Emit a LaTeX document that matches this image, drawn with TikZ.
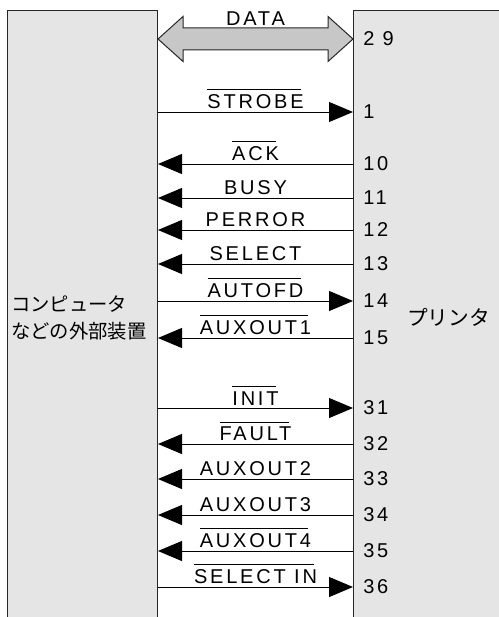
\documentclass[tikz,border=0pt]{standalone}
\usepackage{fontspec}
\setmainfont{Liberation Sans}[LetterSpace=14]
\newfontfamily\jpfont{Noto Sans CJK JP}
\usepackage{xcolor}
\usetikzlibrary{positioning,arrows.meta,calc}
\definecolor{boxgray}{gray}{0.9}
\definecolor{busgray}{gray}{0.78}
\newsavebox{\ovlbox}
\newcommand{\ovl}[1]{\sbox{\ovlbox}{#1}\rlap{\rule[\dimexpr\ht\ovlbox+3.5pt\relax]{\dimexpr\wd\ovlbox-2pt\relax}{0.7pt}}\usebox{\ovlbox}}

\begin{document}
\begin{tikzpicture}[
    x=0.75pt, y=-0.75pt,
    font=\fontsize{15}{17}\selectfont,
    devbox/.style={draw=black!85, fill=boxgray, line width=0.75pt, anchor=north west, minimum height=480pt, inner sep=0pt},
    pinno/.style={anchor=west, inner sep=0pt},
    lbl/.style={above, inner sep=1.8pt},
    fwd/.style={line width=0.75pt, -{Triangle[length=18pt, width=15pt]}},
    bwd/.style={line width=0.75pt, {Triangle[length=18pt, width=15pt]}-},
    bus/.style={draw=black!85, fill=busgray, line width=0.75pt},
  ]
  \useasboundingbox (0,0) rectangle (499,617);
  \clip (0,0) rectangle (499,617);

  % Computer and printer
  \node[devbox, minimum width=112.5pt] (cpu) at (7,10) {};
  \node[devbox, minimum width=135pt] (prn) at (353,10) {};
  \node[anchor=west, inner sep=0pt, align=left, font=\jpfont\fontsize{14.5}{20.25}\selectfont] (cputxt) at (11,318) {コンピュータ\\などの外部装置};
  \node[anchor=west, inner sep=0pt, font=\jpfont\fontsize{15.5}{18}\selectfont] (prntxt) at (407,317) {プリンタ};

  % Pin numbers
  \node[pinno] (p29) at (363,39) {2 9};
  \node[pinno] (p1) at (363,112) {1};
  \node[pinno] (p10) at (363,164) {10};
  \node[pinno] (p11) at (363,198) {11};
  \node[pinno] (p12) at (363,230) {12};
  \node[pinno] (p13) at (363,264) {13};
  \node[pinno] (p14) at (363,301) {14};
  \node[pinno] (p15) at (363,338) {15};
  \node[pinno] (p31) at (363,408) {31};
  \node[pinno] (p32) at (363,444) {32};
  \node[pinno] (p33) at (363,479) {33};
  \node[pinno] (p34) at (363,515) {34};
  \node[pinno] (p35) at (363,551) {35};
  \node[pinno] (p36) at (363,587) {36};

  % Data bus
  \coordinate (busL) at (cpu.east |- p29);
  \coordinate (busR) at (prn.west |- p29);
  \draw[bus] (busL) -- ++(25,-22.5) -- ++(0,11.5) -- ($(busR)+(-25,-11)$) -- ++(0,-11.5)
    -- (busR) -- ++(-25,22.5) -- ++(0,-11.5) -- ($(busL)+(25,11)$) -- ++(0,11.5) -- cycle;
  \node[lbl] (datalbl) at ($(busL)!0.5!(busR)+(0,-11)$) {DATA};

  % Signals
  \draw[fwd] (p1 -| cpu.east) -- (p1 -| prn.west) node[lbl, midway] (strobe) {\ovl{STROBE}};
  \draw[bwd] (p10 -| cpu.east) -- (p10 -| prn.west) node[lbl, midway] (ack) {\ovl{ACK}};
  \draw[bwd] (p11 -| cpu.east) -- (p11 -| prn.west) node[lbl, midway] (busy) {BUSY};
  \draw[bwd] (p12 -| cpu.east) -- (p12 -| prn.west) node[lbl, midway] (perror) {PERROR};
  \draw[bwd] (p13 -| cpu.east) -- (p13 -| prn.west) node[lbl, midway] (select) {SELECT};
  \draw[fwd] (p14 -| cpu.east) -- (p14 -| prn.west) node[lbl, midway] (autofd) {\ovl{AUTOFD}};
  \draw[bwd] (p15 -| cpu.east) -- (p15 -| prn.west) node[lbl, midway] (auxout1) {\ovl{AUXOUT1}};
  \draw[fwd] (p31 -| cpu.east) -- (p31 -| prn.west) node[lbl, midway] (init) {\ovl{INIT}};
  \draw[bwd] (p32 -| cpu.east) -- (p32 -| prn.west) node[lbl, midway] (fault) {\ovl{FAULT}};
  \draw[bwd] (p33 -| cpu.east) -- (p33 -| prn.west) node[lbl, midway] (auxout2) {AUXOUT2};
  \draw[bwd] (p34 -| cpu.east) -- (p34 -| prn.west) node[lbl, midway] (auxout3) {AUXOUT3};
  \draw[bwd] (p35 -| cpu.east) -- (p35 -| prn.west) node[lbl, midway] (auxout4) {\ovl{AUXOUT4}};
  \draw[fwd] (p36 -| cpu.east) -- (p36 -| prn.west) node[lbl, midway] (selectin) {\ovl{SELECT IN}};
\end{tikzpicture}
\end{document}
